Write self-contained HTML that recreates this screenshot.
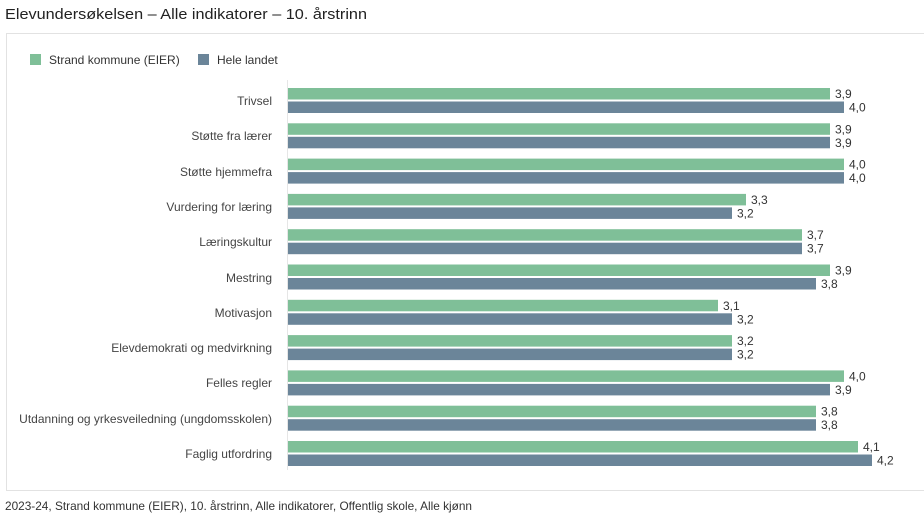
<!DOCTYPE html>
<html><head><meta charset="utf-8"><style>
html,body{margin:0;padding:0;background:#fff;}
svg{display:block;font-family:"Liberation Sans",Arial,sans-serif;}
</style></head><body>
<svg width="924" height="523" viewBox="0 0 924 523" xmlns="http://www.w3.org/2000/svg">
<text x="5" y="19" font-size="15" fill="#222" textLength="362" lengthAdjust="spacingAndGlyphs">Elevundersøkelsen – Alle indikatorer – 10. årstrinn</text>
<rect x="6.5" y="33.5" width="930" height="457" fill="#fff" stroke="#e2e2e2"/>
<rect x="30" y="54" width="11" height="11" fill="#7fbf98"/>
<text x="49" y="64" font-size="12" fill="#333">Strand kommune (EIER)</text>
<rect x="198" y="54" width="11" height="11" fill="#6b8599"/>
<text x="217" y="64" font-size="12" fill="#333">Hele landet</text>
<line x1="287.5" y1="80" x2="287.5" y2="470" stroke="#e6e6e6"/>
<g font-size="12" fill="#444" text-anchor="end">
<text x="272" y="105">Trivsel</text>
<text x="272" y="140">Støtte fra lærer</text>
<text x="272" y="176">Støtte hjemmefra</text>
<text x="272" y="211">Vurdering for læring</text>
<text x="272" y="246">Læringskultur</text>
<text x="272" y="282">Mestring</text>
<text x="272" y="317">Motivasjon</text>
<text x="272" y="352">Elevdemokrati og medvirkning</text>
<text x="272" y="387">Felles regler</text>
<text x="272" y="423">Utdanning og yrkesveiledning (ungdomsskolen)</text>
<text x="272" y="458">Faglig utfordring</text>
</g>
<g fill="#7fbf98">
<rect x="288" y="88" width="542" height="11.5"/>
<rect x="288" y="123.3" width="542" height="11.5"/>
<rect x="288" y="158.6" width="556" height="11.5"/>
<rect x="288" y="193.9" width="458" height="11.5"/>
<rect x="288" y="229.2" width="514" height="11.5"/>
<rect x="288" y="264.5" width="542" height="11.5"/>
<rect x="288" y="299.8" width="430" height="11.5"/>
<rect x="288" y="335.1" width="444" height="11.5"/>
<rect x="288" y="370.4" width="556" height="11.5"/>
<rect x="288" y="405.7" width="528" height="11.5"/>
<rect x="288" y="441" width="570" height="11.5"/>
</g>
<g fill="#6b8599">
<rect x="288" y="101.5" width="556" height="11.5"/>
<rect x="288" y="136.8" width="542" height="11.5"/>
<rect x="288" y="172.1" width="556" height="11.5"/>
<rect x="288" y="207.4" width="444" height="11.5"/>
<rect x="288" y="242.7" width="514" height="11.5"/>
<rect x="288" y="278" width="528" height="11.5"/>
<rect x="288" y="313.3" width="444" height="11.5"/>
<rect x="288" y="348.6" width="444" height="11.5"/>
<rect x="288" y="383.9" width="542" height="11.5"/>
<rect x="288" y="419.2" width="528" height="11.5"/>
<rect x="288" y="454.5" width="584" height="11.5"/>
</g>
<g font-size="12" fill="#333">
<text x="835" y="98">3,9</text><text x="849" y="111.5">4,0</text>
<text x="835" y="133.3">3,9</text><text x="835" y="146.8">3,9</text>
<text x="849" y="168.6">4,0</text><text x="849" y="182.1">4,0</text>
<text x="751" y="203.9">3,3</text><text x="737" y="217.4">3,2</text>
<text x="807" y="239.2">3,7</text><text x="807" y="252.7">3,7</text>
<text x="835" y="274.5">3,9</text><text x="821" y="288">3,8</text>
<text x="723" y="309.8">3,1</text><text x="737" y="323.3">3,2</text>
<text x="737" y="345.1">3,2</text><text x="737" y="358.6">3,2</text>
<text x="849" y="380.4">4,0</text><text x="835" y="393.9">3,9</text>
<text x="821" y="415.7">3,8</text><text x="821" y="429.2">3,8</text>
<text x="863" y="451">4,1</text><text x="877" y="464.5">4,2</text>
</g>
<text x="5" y="510" font-size="12" fill="#333" textLength="467" lengthAdjust="spacingAndGlyphs">2023-24, Strand kommune (EIER), 10. årstrinn, Alle indikatorer, Offentlig skole, Alle kjønn</text>
</svg>
</body></html>
